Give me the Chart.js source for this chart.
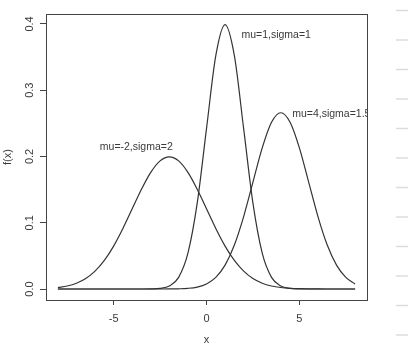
<!DOCTYPE html>
<html>
<head>
<meta charset="utf-8">
<script src="https://cdn.jsdelivr.net/npm/chart.js"></script>
<style>
  html, body { margin: 0; padding: 0; background: #fff; }
</style>
</head>
<body>
<canvas id="mycanvas" width="408" height="353"></canvas>
<script>
// x grid shared by all three curves
var xs = [-8, -7.5, -7, -6.5, -6, -5.5, -5, -4.5, -4, -3.5, -3, -2.5, -2, -1.5, -1, -0.5,
          0, 0.5, 1, 1.5, 2, 2.5, 3, 3.5, 4, 4.5, 5, 5.5, 6, 6.5, 7, 7.5, 8];

// mu=-2, sigma=2
var densA = [0.00222, 0.00455, 0.00876, 0.01587, 0.02700, 0.04314, 0.06476, 0.09133, 0.12099, 0.15057, 0.17603, 0.19333, 0.19947, 0.19333, 0.17603, 0.15057,
             0.12099, 0.09133, 0.06476, 0.04314, 0.02700, 0.01587, 0.00876, 0.00455, 0.00222, 0.00102, 0.00044, 0.00018, 0.00007, 0.00002, 0.00001, 0, 0];
// mu=1, sigma=1
var densB = [0, 0, 0, 0, 0, 0, 0, 0, 0, 0.00002, 0.00013, 0.00087, 0.00443, 0.01753, 0.05399, 0.12952,
             0.24197, 0.35207, 0.39894, 0.35207, 0.24197, 0.12952, 0.05399, 0.01753, 0.00443, 0.00087, 0.00013, 0.00002, 0, 0, 0, 0, 0];
// mu=4, sigma=1.5
var densC = [0, 0, 0, 0, 0, 0, 0, 0, 0, 0, 0, 0.00002, 0.00009, 0.00032, 0.00103, 0.00295,
             0.00760, 0.01748, 0.03599, 0.06632, 0.10934, 0.16131, 0.21297, 0.25159, 0.26596, 0.25159, 0.21297, 0.16131, 0.10934, 0.06632, 0.03599, 0.01748, 0.00760];

var xTicks = [-5, 0, 5];
var yTicks = [0.0, 0.1, 0.2, 0.3, 0.4];
var yTickLabels = ["0.0", "0.1", "0.2", "0.3", "0.4"];

// text labels placed at data coordinates
var noteText = ["mu=-2,sigma=2", "mu=1,sigma=1", "mu=4,sigma=1.5"];
var noteX = [-3.78, 3.75, 6.72];
var noteY = [0.214, 0.383, 0.264];

function pts(ys) {
    var out = [];
    for (var i in xs) {
        out.push({x: xs[i], y: ys[i]});
    }
    return out;
}

var lineColor = "#333333";
var textColor = "#3a3a3a";
var font = "11px 'Liberation Sans', Arial, sans-serif";
var noteFont = "10.5px 'Liberation Sans', Arial, sans-serif";

var rPlot = {
    id: "rPlot",
    beforeDraw: function (chart) {
        var c = chart.ctx;
        c.save();
        c.fillStyle = "#ffffff";
        c.fillRect(0, 0, chart.width, chart.height);
        // light gray dashes on the right margin of the page
        c.strokeStyle = "#dcdcdc";
        c.lineWidth = 1.5;
        for (var k = 0; k < 12; k++) {
            var yy = 10.5 + k * 29.5;
            c.beginPath();
            c.moveTo(396, yy);
            c.lineTo(408, yy);
            c.stroke();
        }
        c.restore();
    },
    afterDraw: function (chart) {
        var c = chart.ctx;
        var a = chart.chartArea;
        var sx = chart.scales.x, sy = chart.scales.y;
        c.save();
        c.fillStyle = textColor;
        c.font = font;
        c.textAlign = "center";
        c.textBaseline = "middle";

        // rotated y tick labels
        for (var i in yTicks) {
            var py = sy.getPixelForValue(yTicks[i]);
            c.save();
            c.translate(30, py);
            c.rotate(-Math.PI / 2);
            c.fillText(yTickLabels[i], 0, 0);
            c.restore();
        }
        // axis titles
        c.save();
        c.translate(8, (a.top + a.bottom) / 2);
        c.rotate(-Math.PI / 2);
        c.fillText("f(x)", 0, 0);
        c.restore();
        c.fillText("x", (a.left + a.right) / 2, 340);

        // curve notes, clipped to the plot region like R does
        c.save();
        c.font = noteFont;
        c.beginPath();
        c.rect(a.left, a.top, a.right - a.left + 1, a.bottom - a.top);
        c.clip();
        for (var j in noteText) {
            c.fillText(noteText[j], sx.getPixelForValue(noteX[j]), sy.getPixelForValue(noteY[j]));
        }
        c.restore();

        // box
        c.strokeStyle = "#444444";
        c.lineWidth = 1;
        c.strokeRect(a.left + 0.5, a.top + 0.5, a.right - a.left, a.bottom - a.top);
        c.restore();
    }
};

function ds(ys) {
    return {
        data: pts(ys),
        borderColor: lineColor,
        borderWidth: 1.2,
        pointRadius: 0,
        fill: false,
        cubicInterpolationMode: "monotone"
    };
}

var ctx = document.getElementById("mycanvas");
var chart = new Chart(ctx, {
    type: "line",
    data: {
        datasets: [ds(densA), ds(densB), ds(densC)]
    },
    options: {
        responsive: false,
        animation: false,
        layout: { padding: { top: 14, right: 41, left: 0, bottom: 0 } },
        plugins: {
            legend: { display: false },
            tooltip: { enabled: false }
        },
        scales: {
            x: {
                type: "linear",
                min: -8.64,
                max: 8.64,
                afterBuildTicks: function (scale) {
                    scale.ticks = xTicks.map(function (v) { return {value: v}; });
                },
                afterFit: function (scale) { scale.height = 53; },
                grid: { drawOnChartArea: false, tickLength: 5, color: "#444444", tickColor: "#444444" },
                border: { display: true, color: "#444444" },
                ticks: {
                    color: textColor,
                    font: { family: "'Liberation Sans', Arial, sans-serif", size: 11 },
                    padding: 7,
                    maxRotation: 0,
                    callback: function (v) { return String(v); }
                }
            },
            y: {
                type: "linear",
                min: -0.0166,
                max: 0.415,
                afterBuildTicks: function (scale) {
                    scale.ticks = yTicks.map(function (v) { return {value: v}; });
                },
                afterFit: function (scale) { scale.width = 46; },
                grid: { drawOnChartArea: false, tickLength: 6, color: "#444444", tickColor: "#444444" },
                border: { display: true, color: "#444444" },
                ticks: {
                    display: false
                }
            }
        }
    },
    plugins: [rPlot]
});
</script>
</body>
</html>
